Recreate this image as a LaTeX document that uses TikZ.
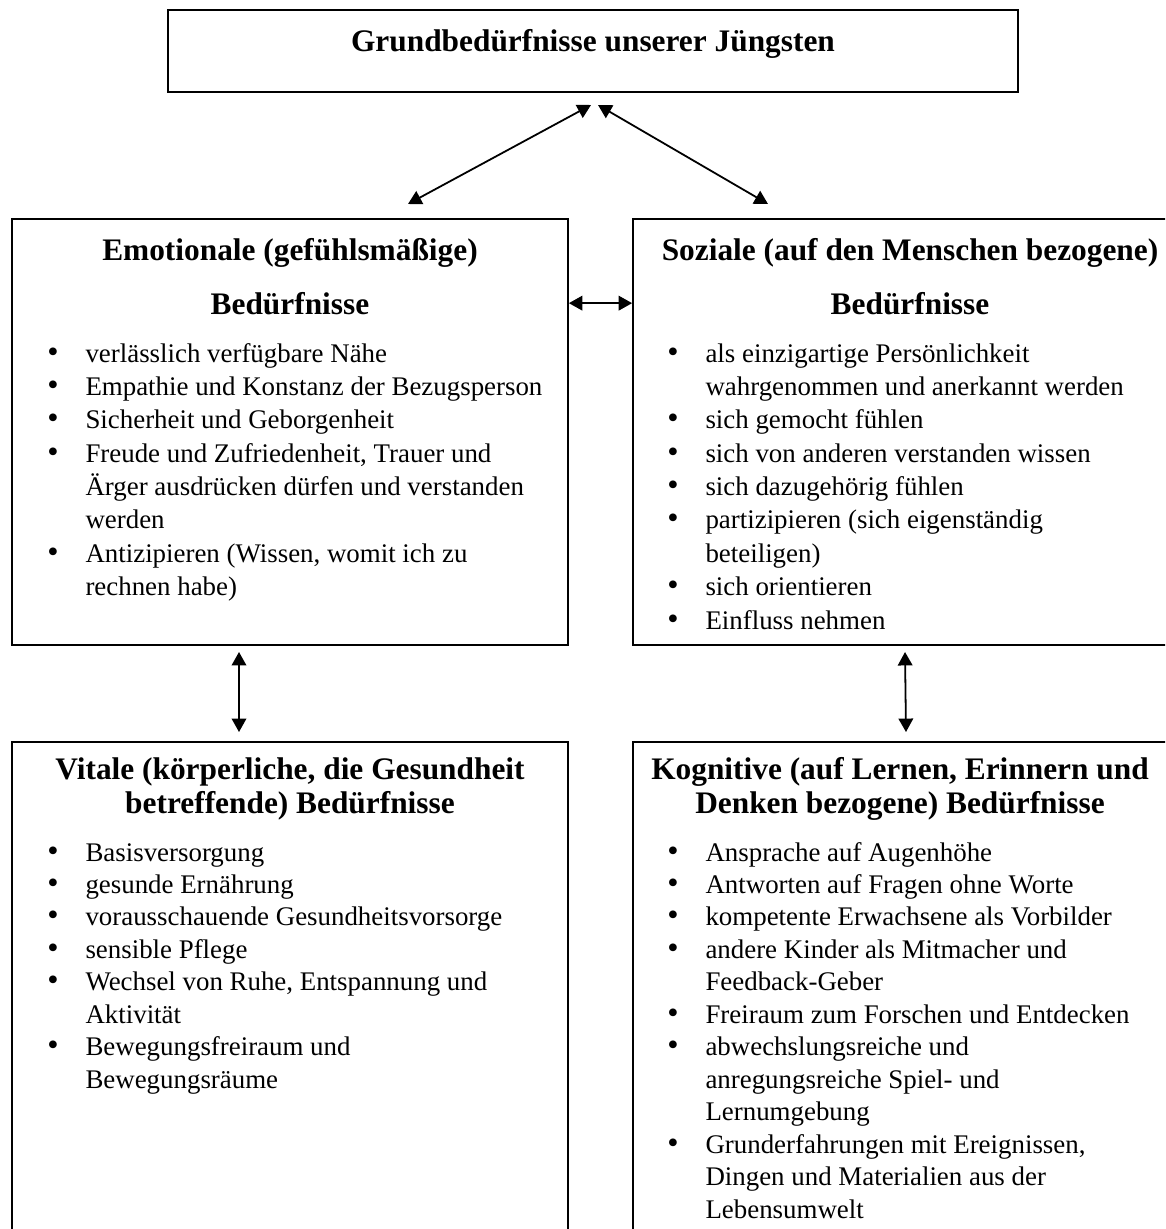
\documentclass[tikz,border=0pt]{standalone}
\usepackage{fontspec}
\setmainfont{Liberation Serif}
\usetikzlibrary{arrows.meta, fit}

\begin{document}
\begin{tikzpicture}[
  x=0.4464pt, y=-0.4464pt,
  box/.style={draw=black, line width=0.8pt, inner sep=0pt},
  head/.style={font=\fontsize{14}{15.2}\selectfont\bfseries, anchor=base, inner sep=0pt},
  lst/.style={font=\fontsize{12}{14.5}\selectfont, anchor=base west, inner sep=0pt},
  both/.style={{Triangle[length=6pt,width=6.5pt]}-{Triangle[length=6pt,width=6.5pt]},
    line width=0.8pt}
]
\useasboundingbox (0,0) rectangle (1165,1229);
\clip (0,0) rectangle (1165,1229);

% ---- the five frames
\node[box, fit={(168,10) (1018,92)}]   (top) {};
\node[box, fit={(12,219) (568,645)}]   (emo) {};
\node[box, fit={(633,219) (1190,645)}] (soz) {};
\node[box, fit={(12,742) (568,1270)}]  (vit) {};
\node[box, fit={(633,742) (1190,1270)}](kog) {};

% ---- headings
\node[head] (title) at (593,52) {Grundbedürfnisse unserer Jüngsten};
\node[head] (emoH)  at (290,260) {Emotionale (gefühlsmäßige)};
\node[head] (emoB)  at (290,314) {Bedürfnisse};
\node[head] (sozH)  at (910,260) {Soziale (auf den Menschen bezogene)};
\node[head] (sozB)  at (910,314) {Bedürfnisse};
\node[head] (vitH)  at (290,779) {Vitale (körperliche, die Gesundheit};
\node[head] (vitB)  at (290,813) {betreffende) Bedürfnisse};
\node[head] (kogH)  at (900,779) {Kognitive (auf Lernen, Erinnern und};
\node[head] (kogB)  at (900,813) {Denken bezogene) Bedürfnisse};

% ---- the four lists
\node[lst, font=\fontsize{12}{14.9}\selectfont] (emoL) at (47,362) {%
\begin{tabular}[t]{@{}p{17pt}@{}l@{}}
  {\Large\textbullet} & verlässlich verfügbare Nähe\\
  {\Large\textbullet} & Empathie und Konstanz der Bezugsperson\\
  {\Large\textbullet} & Sicherheit und Geborgenheit\\
  {\Large\textbullet} & Freude und Zufriedenheit, Trauer und\\
                      & Ärger ausdrücken dürfen und verstanden\\
                      & werden\\
  {\Large\textbullet} & Antizipieren (Wissen, womit ich zu\\
                      & rechnen habe)
\end{tabular}};
\node[lst, font=\fontsize{12}{14.9}\selectfont] (sozL) at (667,362) {%
\begin{tabular}[t]{@{}p{17pt}@{}l@{}}
  {\Large\textbullet} & als einzigartige Persönlichkeit\\
                      & wahrgenommen und anerkannt werden\\
  {\Large\textbullet} & sich gemocht fühlen\\
  {\Large\textbullet} & sich von anderen verstanden wissen\\
  {\Large\textbullet} & sich dazugehörig fühlen\\
  {\Large\textbullet} & partizipieren (sich eigenständig\\
                      & beteiligen)\\
  {\Large\textbullet} & sich orientieren\\
  {\Large\textbullet} & Einfluss nehmen
\end{tabular}};
\node[lst] (vitL) at (47,861) {%
\begin{tabular}[t]{@{}p{17pt}@{}l@{}}
  {\Large\textbullet} & Basisversorgung\\
  {\Large\textbullet} & gesunde Ernährung\\
  {\Large\textbullet} & vorausschauende Gesundheitsvorsorge\\
  {\Large\textbullet} & sensible Pflege\\
  {\Large\textbullet} & Wechsel von Ruhe, Entspannung und\\
                      & Aktivität\\
  {\Large\textbullet} & Bewegungsfreiraum und\\
                      & Bewegungsräume
\end{tabular}};
\node[lst] (kogL) at (667,861) {%
\begin{tabular}[t]{@{}p{17pt}@{}l@{}}
  {\Large\textbullet} & Ansprache auf Augenhöhe\\
  {\Large\textbullet} & Antworten auf Fragen ohne Worte\\
  {\Large\textbullet} & kompetente Erwachsene als Vorbilder\\
  {\Large\textbullet} & andere Kinder als Mitmacher und\\
                      & Feedback-Geber\\
  {\Large\textbullet} & Freiraum zum Forschen und Entdecken\\
  {\Large\textbullet} & abwechslungsreiche und\\
                      & anregungsreiche Spiel- und\\
                      & Lernumgebung\\
  {\Large\textbullet} & Grunderfahrungen mit Ereignissen,\\
                      & Dingen und Materialien aus der\\
                      & Lebensumwelt
\end{tabular}};

% ---- arrow ends
\coordinate (topL) at (591,105);
\coordinate (topR) at (598,105);
\coordinate (emoT) at (408,204);
\coordinate (sozT) at (768,204);
\coordinate (emoS) at (239,652);
\coordinate (vitN) at (239,732);
\coordinate (sozS) at (905,652);
\coordinate (kogN) at (906,732);

\draw[both] (topL) -- (emoT);
\draw[both] (topR) -- (sozT);
\draw[both] (emo.east |- emoB) -- (soz.west |- emoB);
\draw[both] (emoS) -- (vitN);
\draw[both] (sozS) -- (kogN);

\end{tikzpicture}
\end{document}
